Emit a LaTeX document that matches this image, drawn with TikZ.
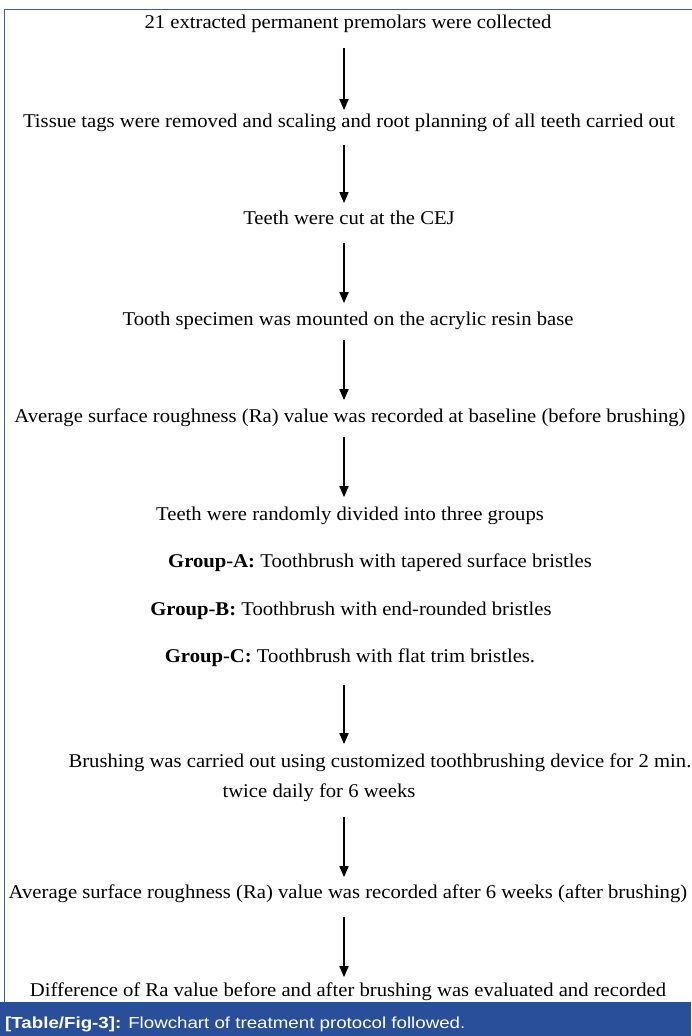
\documentclass[tikz,border=0pt]{standalone}
\usepackage{fontspec}
\setmainfont[FakeStretch=1.06]{Liberation Serif}
\newfontfamily\capfont[FakeStretch=1.17]{Liberation Sans}
\usetikzlibrary{arrows.meta}
\definecolor{framblue}{RGB}{60,92,164}
\definecolor{capblue}{RGB}{41,79,155}
\tikzset{
  txt/.style={anchor=base,inner sep=0pt,text height=13.65pt,text depth=3.9pt,font=\fontsize{19.5}{22}\selectfont},
  flow/.style={line width=1.6pt,-{Triangle[width=9pt,length=11pt]}}
}
\begin{document}
\begin{tikzpicture}[x=1pt,y=1pt,yscale=-1,xscale=1]
\useasboundingbox (0,0) rectangle (691,1036);

%Frame
\draw [framblue,line width=1.2pt] (700,9.5) -- (4.5,9.5) -- (4.5,1004) ;
%Caption bar
\fill [capblue] (0,1002) rectangle (691,1036) ;

\coordinate (ax) at (344,0);

% Text Node
\node [txt] (t1) at (348,28) {21 extracted permanent premolars were collected};
% Text Node
\node [txt] (t2) at (349,127) {Tissue tags were removed and scaling and root planning of all teeth carried out};
% Text Node
\node [txt] (t3) at (349,224) {Teeth were cut at the CEJ};
% Text Node
\node [txt] (t4) at (348,325) {Tooth specimen was mounted on the acrylic resin base};
% Text Node
\node [txt] (t5) at (350,422) {Average surface roughness (Ra) value was recorded at baseline (before brushing)};
% Text Node
\node [txt] (t6) at (350,520) {Teeth were randomly divided into three groups};
% Text Node
\node [txt] (ga) at (380,567) {\textbf{Group-A:} Toothbrush with tapered surface bristles};
% Text Node
\node [txt] (gb) at (351,615) {\textbf{Group-B:} Toothbrush with end-rounded bristles};
% Text Node
\node [txt] (gc) at (350,662) {\textbf{Group-C:} Toothbrush with flat trim bristles.};
% Text Node
\node [txt] (t7) at (380,767) {Brushing was carried out using customized toothbrushing device for 2 min.};
% Text Node
\node [txt] (t7b) at (319,797) {twice daily for 6 weeks};
% Text Node
\node [txt] (t8) at (348,898) {Average surface roughness (Ra) value was recorded after 6 weeks (after brushing)};
% Text Node
\node [txt] (t9) at (348,996) {Difference of Ra value before and after brushing was evaluated and recorded};

%Arrows
\draw [flow,shorten <=16pt,shorten >=3pt] (t1.south -| ax) -- (t2.north -| ax) ;
\draw [flow,shorten <=14pt,shorten >=7pt] (t2.south -| ax) -- (t3.north -| ax) ;
\draw [flow,shorten <=15pt,shorten >=8pt] (t3.south -| ax) -- (t4.north -| ax) ;
\draw [flow,shorten <=11pt,shorten >=8pt] (t4.south -| ax) -- (t5.north -| ax) ;
\draw [flow,shorten <=11pt,shorten >=9pt] (t5.south -| ax) -- (t6.north -| ax) ;
\draw [flow,shorten <=19pt,shorten >=9pt] (gc.south -| ax) -- (t7.north -| ax) ;
\draw [flow,shorten <=16pt,shorten >=7pt] (t7b.south -| ax) -- (t8.north -| ax) ;
\draw [flow,shorten <=15pt,shorten >=5pt] (t8.south -| ax) -- (t9.north -| ax) ;

% Caption
\node [anchor=base west,inner sep=0pt,text=white,font=\capfont\fontsize{16}{18}\selectfont] (cap) at (5,1028) {\textbf{[Table/Fig-3]:} Flowchart of treatment protocol followed.};

\end{tikzpicture}
\end{document}
